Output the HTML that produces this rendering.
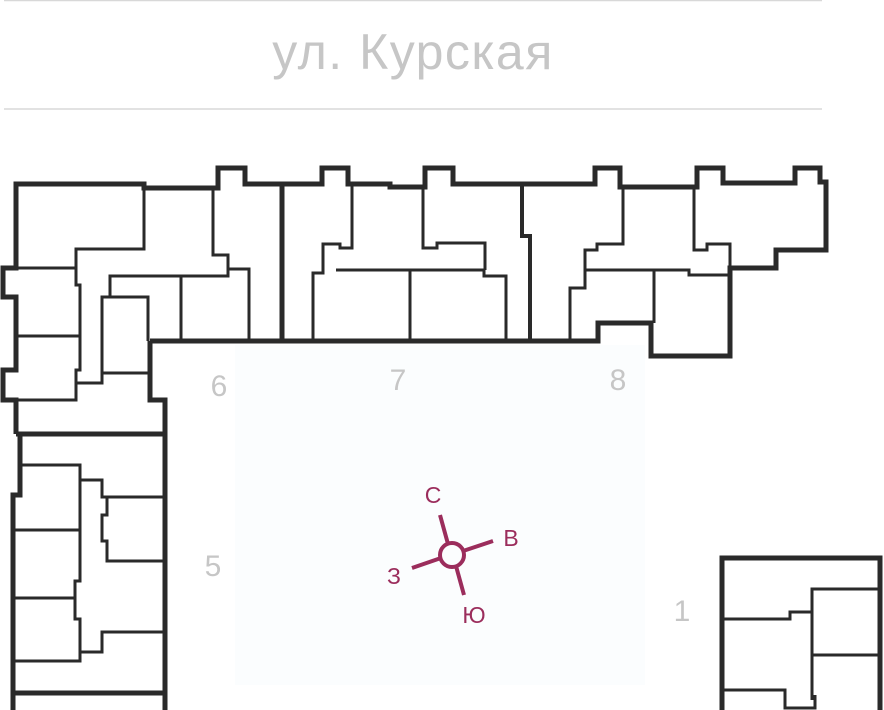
<!DOCTYPE html>
<html><head><meta charset="utf-8"><style>
html,body{margin:0;padding:0;background:#fff;}
svg{display:block;}
</style></head><body>
<svg width="884" height="710" viewBox="0 0 884 710" xmlns="http://www.w3.org/2000/svg">
<rect width="884" height="710" fill="#fff"/>
<line x1="4" y1="0.5" x2="822" y2="0.5" stroke="#d8d8d8" stroke-width="1.5"/>
<line x1="4" y1="109" x2="822" y2="109" stroke="#d8d8d8" stroke-width="1.5"/>
<text x="413" y="69" text-anchor="middle" font-family="Liberation Sans, sans-serif" font-size="50" fill="#c6c6c6" letter-spacing="1.5">ул. Курская</text>
<rect x="235" y="345" width="410" height="340" fill="#fbfdfe"/>
<g fill="none" stroke="#2a2a2a" stroke-linejoin="miter">
<g stroke-width="5">
<path d="M150,341 L598,341 L598,323 L651,323 L651,356 L730,356 L730,268 L776,268 L776,250 L826,250 L826,182 L820,182 L820,168 L795,168 L795,183 L723,183 L723,168 L697,168 L697,187 L620,187 L620,168 L595,168 L595,184 L453,184 L453,168 L425,168 L425,187 L390,187 L390,184 L348,184 L348,168 L322,168 L322,184 L245,184 L245,168 L218,168 L218,188 L144,188 L144,184 L16,184 L16,268 L3,268 L3,297 L16,297 L16,370 L3,370 L3,400 L16,400 L16,434"/>
<path d="M150,341 L150,400 L165,400 L165,710"/>
<path d="M282,184 L282,341"/>
<path d="M522,184 L522,236 L530,236 L530,341" stroke-width="4"/>
<path d="M16,434 L165,434"/>
<path d="M20,434 L20,495 L13,495 L13,710"/>
<path d="M13,693 L165,693"/>
<path d="M722,710 L722,558 L880,558 L880,710"/>
</g>
<g stroke-width="3">
<path d="M144,188 L144,249 L76,249 L76,285 L80,285 L80,370 L76,370 L76,400 L16,400"/>
<path d="M16,268 L76,268"/>
<path d="M16,336 L80,336"/>
<path d="M76,383 L102,383 L102,297 L148,297 L148,341"/>
<path d="M102,373 L148,373"/>
<path d="M110,297 L110,276 L228,276 L228,255 L213,255 L213,188"/>
<path d="M181,276 L181,341"/>
<path d="M228,269 L249,269 L249,341"/>
<path d="M352,184 L352,248 L340,248 L340,244 L323,244 L323,273 L313,273 L313,341"/>
<path d="M336,270 L484,270 L484,276 L506,276 L506,341"/>
<path d="M410,270 L410,341"/>
<path d="M423,187 L423,248 L437,248 L437,243 L485,243 L485,270"/>
<path d="M623,187 L623,244 L597,244 L597,250 L585,250 L585,288 L570,288 L570,341"/>
<path d="M585,270 L689,270 L689,275 L728,275"/>
<path d="M654,270 L654,323"/>
<path d="M694,187 L694,250 L707,250 L707,244 L730,244 L730,268"/>
<path d="M20,465 L80,465 L80,480 L102,480 L102,497 L165,497"/>
<path d="M102,497 L107,497 L107,515 L102,515 L102,541 L107,541 L107,561 L165,561"/>
<path d="M80,480 L80,581 L75,581 L75,619 L80,619 L80,661 L13,661"/>
<path d="M13,530 L80,530"/>
<path d="M13,598 L75,598"/>
<path d="M165,632 L102,632 L102,652 L80,652"/>
<path d="M880,589 L812,589 L812,700"/>
<path d="M812,655 L880,655"/>
<path d="M722,619 L790,619 L790,612 L812,612"/>
<path d="M722,690 L785,690 L785,708 L815,708 L815,695"/>
</g>
</g>
<g font-family="Liberation Sans, sans-serif" font-size="30" fill="#c6c6c6" text-anchor="middle">
<text x="219" y="396">6</text>
<text x="398" y="390">7</text>
<text x="618" y="390">8</text>
<text x="213" y="576">5</text>
<text x="682" y="621">1</text>
</g>
<g stroke="#9b2d5c" stroke-width="4" fill="none">
<line x1="440" y1="515" x2="448" y2="544"/>
<line x1="456" y1="566" x2="464" y2="595"/>
<line x1="412" y1="568" x2="441" y2="558"/>
<line x1="463" y1="551" x2="493" y2="541"/>
<circle cx="452" cy="555" r="12"/>
</g>
<g font-family="Liberation Sans, sans-serif" font-size="23" fill="#9b2d5c" text-anchor="middle">
<text x="433" y="503">С</text>
<text x="511" y="546">В</text>
<text x="394" y="584">З</text>
<text x="474" y="623">Ю</text>
</g>
</svg>
</body></html>
